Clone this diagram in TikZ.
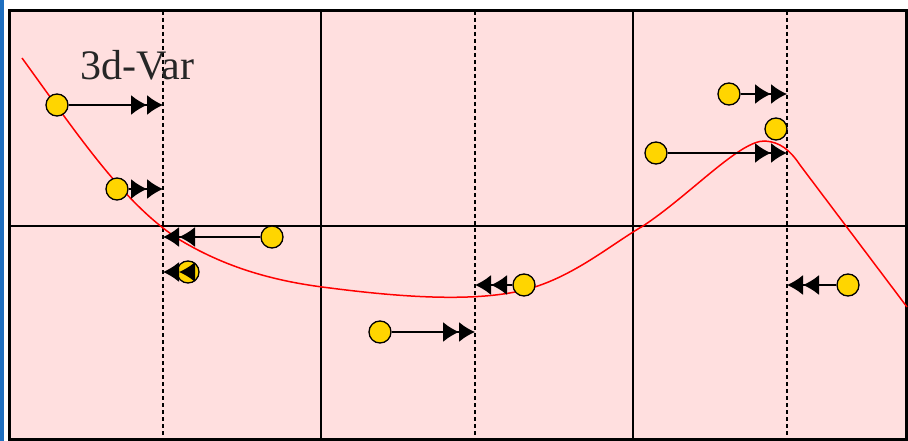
\documentclass[tikz,border=0pt]{standalone}
\usepackage{fontspec}
\setmainfont{Liberation Serif}
\usetikzlibrary{arrows.meta}
\definecolor{bgpink}{HTML}{FFDFDF}
\definecolor{dotyellow}{HTML}{FFD500}
\definecolor{edgeblue}{HTML}{1E6FC0}
\begin{document}
\begin{tikzpicture}[x=1pt,y=-1pt,
  obs/.style={circle,draw=black,line width=1.3pt,fill=dotyellow,minimum size=22pt,inner sep=0pt},
  incr/.style={draw=black,line width=1.5pt,-{Latex[length=16pt,width=20pt]Latex[length=16pt,width=20pt]}},
  grid/.style={draw=black,line width=1.8pt},
  dotline/.style={draw=black,line width=2.2pt,dash pattern=on 4pt off 3pt},
  curve/.style={draw=red,line width=1.5pt}]
\useasboundingbox (0,0) rectangle (908,441);
\fill[white] (0,0) rectangle (908,441);
\fill[edgeblue] (0,0) rectangle (4,441);
\fill[bgpink] (9,11) rectangle (906,439);
% grid
\draw[grid] (321,11) -- (321,439);
\draw[grid] (633,11) -- (633,439);
\draw[grid] (9,226) -- (906,226);
\draw[dotline] (163,11) -- (163,439);
\draw[dotline] (475,11) -- (475,439);
\draw[dotline] (787,11) -- (787,439);
\draw[black,line width=3pt] (9,11) rectangle (906,439);
% label
\node[anchor=base west,inner sep=0pt,font=\fontsize{42}{42}\selectfont,text=black!85] (lbl) at (80,80) {3d-Var};
% curve
\draw[curve] (22,58) .. controls (80,138) and (125,205) .. (180,240)
  .. controls (230,270) and (280,282) .. (330,288)
  .. controls (400,297) and (470,302) .. (520,291)
  .. controls (570,280) and (610,245) .. (643,226)
  .. controls (690,195) and (740,140) .. (765,141)
  .. controls (780,142) and (790,150) .. (800,165)
  -- (907,307);
% observations
\node[obs] (o1) at (57,105) {};
\node[obs] (o2) at (117,189) {};
\node[obs] (o3) at (272,237) {};
\node[obs] (o4) at (188,272) {};
\node[obs] (o5) at (380,332) {};
\node[obs] (o6) at (524,285) {};
\node[obs] (o7) at (729,94) {};
\node[obs] (o8) at (776,129) {};
\node[obs] (o9) at (656,153) {};
\node[obs] (o10) at (848,285) {};
% analysis points
\coordinate (a1) at (163,105);
\coordinate (a2) at (163,189);
\coordinate (a3) at (163,237);
\coordinate (a4) at (163,272);
\coordinate (a5) at (475,332);
\coordinate (a6) at (475,285);
\coordinate (a7) at (787,94);
\coordinate (a9) at (787,153);
\coordinate (a10) at (787,285);
\draw[incr] (o1) -- (a1);
\draw[incr] (o2) -- (a2);
\draw[incr] (o3) -- (a3);
\draw[incr] (o4) -- (a4);
\draw[incr] (o5) -- (a5);
\draw[incr] (o6) -- (a6);
\draw[incr] (o7) -- (a7);
\draw[incr] (o9) -- (a9);
\draw[incr] (o10) -- (a10);
\end{tikzpicture}
\end{document}
